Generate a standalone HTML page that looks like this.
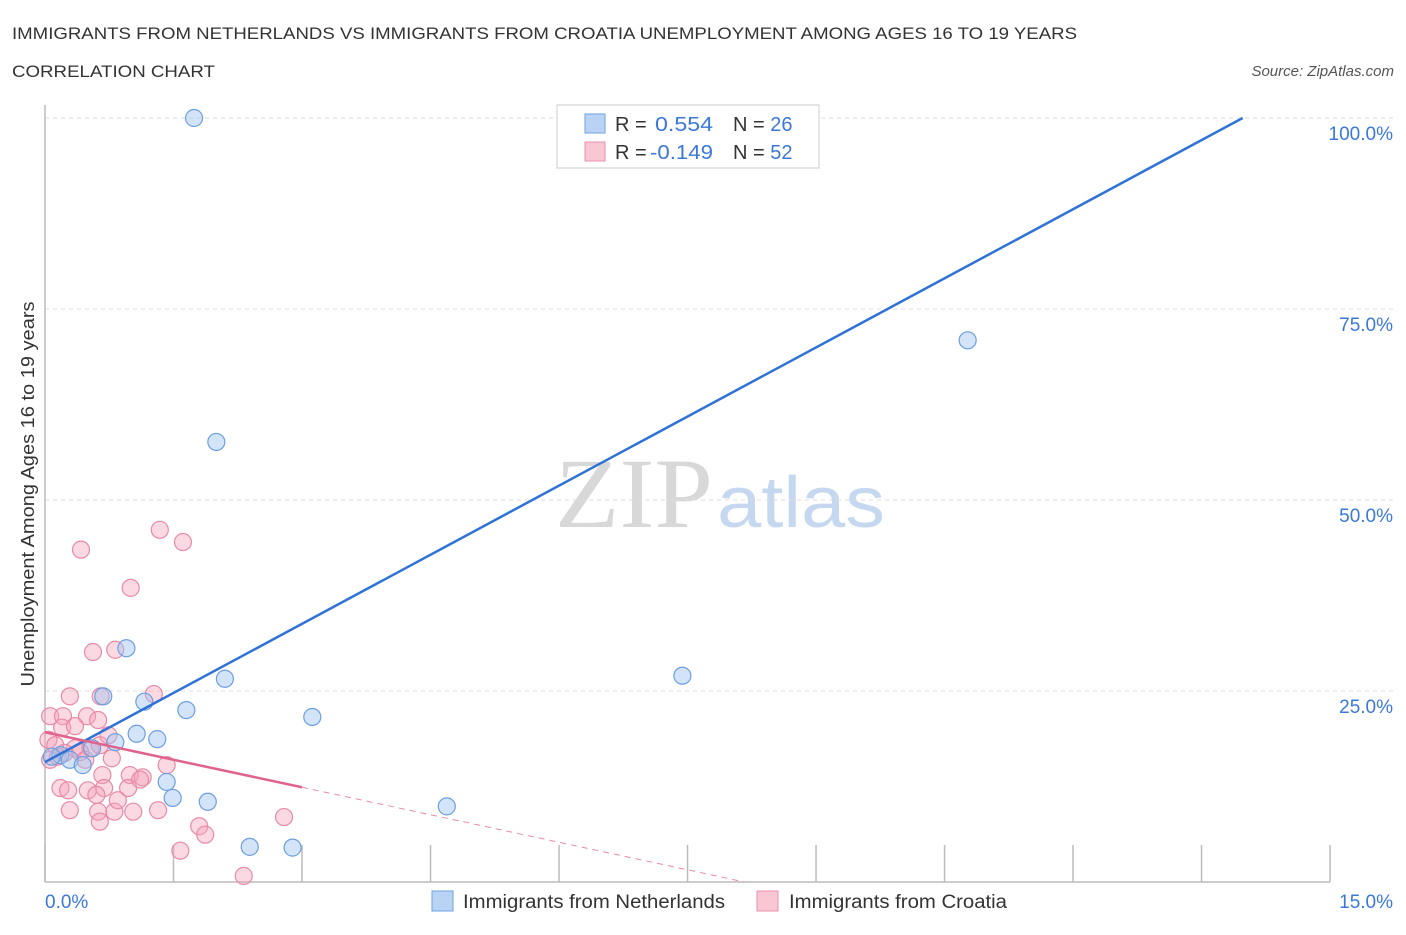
<!DOCTYPE html>
<html><head><meta charset="utf-8"><style>
body{margin:0;background:#fff;font-family:"Liberation Sans",sans-serif;}
</style></head><body>
<svg id="chart" width="1406" height="930" style="font-family:'Liberation Sans',sans-serif">
<text x="12" y="39" font-size="17" fill="#333" textLength="1065" lengthAdjust="spacingAndGlyphs">IMMIGRANTS FROM NETHERLANDS VS IMMIGRANTS FROM CROATIA UNEMPLOYMENT AMONG AGES 16 TO 19 YEARS</text>
<text x="12" y="77" font-size="17" fill="#333" textLength="203" lengthAdjust="spacingAndGlyphs">CORRELATION CHART</text>
<text x="1394" y="76" font-size="15" font-style="italic" fill="#555" text-anchor="end">Source: ZipAtlas.com</text>
<g>
<text x="555" y="527" font-size="100" style="font-family:'Liberation Serif',serif" fill="#d8d8d8" textLength="158" lengthAdjust="spacingAndGlyphs">ZIP</text>
<text x="717" y="527" font-size="72" fill="#c5d8ef" textLength="168" lengthAdjust="spacingAndGlyphs">atlas</text>
</g>
<g id="grid"></g>
<g id="marks"></g>
<text transform="translate(34,494) rotate(-90)" font-size="18" fill="#333" text-anchor="middle" textLength="385" lengthAdjust="spacingAndGlyphs">Unemployment Among Ages 16 to 19 years</text>
<text x="45" y="908" font-size="19" fill="#3b78d8">0.0%</text>
<text x="1393" y="908" font-size="19" fill="#3b78d8" text-anchor="end">15.0%</text>
<g>
<rect x="557" y="105" width="262" height="63" fill="#fff" stroke="#ccc"/>
<rect x="585" y="114" width="20" height="19" fill="#b9d3f5" stroke="#6fa0e6"/>
<rect x="585" y="142" width="20" height="19" fill="#f9c6d4" stroke="#ec8fab"/>
<text x="615" y="131" font-size="20" fill="#333">R = <tspan x="655" fill="#3b78d8" textLength="58" lengthAdjust="spacingAndGlyphs">0.554</tspan></text>
<text x="733" y="131" font-size="20" fill="#333">N = <tspan fill="#3b78d8">26</tspan></text>
<text x="615" y="159" font-size="20" fill="#333">R = <tspan x="650" fill="#3b78d8" textLength="63" lengthAdjust="spacingAndGlyphs">-0.149</tspan></text>
<text x="733" y="159" font-size="20" fill="#333">N = <tspan fill="#3b78d8">52</tspan></text>
</g>
<g>
<rect x="432" y="891" width="21" height="20" fill="#b9d3f5" stroke="#6fa0e6"/>
<text x="463" y="908" font-size="19" fill="#333" textLength="262" lengthAdjust="spacingAndGlyphs">Immigrants from Netherlands</text>
<rect x="757" y="891" width="21" height="20" fill="#f9c6d4" stroke="#ec8fab"/>
<text x="789" y="908" font-size="19" fill="#333" textLength="218" lengthAdjust="spacingAndGlyphs">Immigrants from Croatia</text>
</g>
</svg>
<script>
const yTicks=[25,50,75,100];
const yTickLabels=["25.0%","50.0%","75.0%","100.0%"];
const xTicks=[0,1.5,3,4.5,6,7.5,9,10.5,12,13.5,15];
const nlX=[1.74,6.47,10.77,2.00,0.95,0.68,2.10,7.44,1.16,1.65,3.12,1.07,1.31,0.82,0.55,0.18,0.29,0.44,1.42,1.49,1.90,4.69,2.39,2.89,0.08];
const nlY=[100,100,70.9,57.6,30.6,24.3,26.6,27.0,23.6,22.5,21.6,19.4,18.7,18.3,17.5,16.6,16.0,15.3,13.1,11.0,10.5,9.9,4.6,4.5,16.4];
const hrX=[1.34,1.61,0.42,1.00,0.56,0.82,0.29,0.65,1.27,0.06,0.21,0.49,0.62,0.20,0.35,0.04,0.12,0.35,0.53,0.06,0.15,0.64,0.78,0.23,0.41,0.67,0.99,1.14,1.42,0.69,0.18,0.27,0.50,0.60,0.97,1.11,0.29,0.62,1.03,0.81,1.32,2.79,1.80,1.87,1.58,0.64,2.32,0.85,0.47,0.74];
const hrY=[46.1,44.5,43.5,38.5,30.1,30.4,24.3,24.3,24.6,21.7,21.7,21.7,21.2,20.2,20.4,18.6,17.9,17.5,17.5,16.0,16.4,17.9,16.2,16.9,17.0,14.0,14.0,13.7,15.3,12.3,12.3,12.0,12.0,11.4,12.3,13.4,9.4,9.2,9.2,9.2,9.4,8.5,7.3,6.2,4.1,7.9,0.8,10.7,16.0,19.2];
const nlFit=[15.7,6.03];
const hrFit=[19.6,-2.4];
const X=v=>45+v*85.67, Y=v=>882-v*7.64;
const NS="http://www.w3.org/2000/svg";
function mk(parent,tag,attrs){const e=document.createElementNS(NS,tag);for(const k in attrs)e.setAttribute(k,attrs[k]);parent.appendChild(e);return e;}
const grid=document.getElementById('grid'),marks=document.getElementById('marks');
yTicks.forEach((t,i)=>{
 const l=mk(grid,'line',{x1:45,x2:1393,y1:Y(t),y2:Y(t),stroke:'#ddd','stroke-dasharray':'4,4'});
 
 
 const tx=mk(grid,'text',{x:1393,y:Y(t)+22,'font-size':19,fill:'#3b78d8','text-anchor':'end'});
 tx.textContent=yTickLabels[i];
 
 
});
const ax=mk(grid,'line',{x1:45,x2:45,y1:105,y2:882,stroke:'#bbb','stroke-width':1.5});


const bx=mk(grid,'line',{x1:45,x2:1330,y1:882,y2:882,stroke:'#bbb','stroke-width':1.5});


xTicks.forEach(t=>{
 const l=mk(grid,'line',{x1:X(t),x2:X(t),y1:845,y2:882,stroke:'#bbb','stroke-width':1.5});
 
 
});
hrX.forEach((x,i)=>{
 const c=mk(marks,'circle',{cx:X(x),cy:Y(hrY[i]),r:8.5,fill:'rgba(244,160,185,0.4)',stroke:'#e88aa6','stroke-width':1.2});
 
 
});
nlX.forEach((x,i)=>{
 const c=mk(marks,'circle',{cx:X(x),cy:Y(nlY[i]),r:8.5,fill:'rgba(160,195,240,0.45)',stroke:'#6c9fe0','stroke-width':1.2});
 
 
});
const nlEnd=(100-nlFit[0])/nlFit[1];
const bl=mk(marks,'line',{x1:X(0),y1:Y(nlFit[0]),x2:X(nlEnd),y2:Y(100),stroke:'#2f72d6','stroke-width':2.5});


const pl=mk(marks,'line',{x1:X(0),y1:Y(hrFit[0]),x2:X(3),y2:Y(hrFit[0]+3*hrFit[1]),stroke:'#e0638e','stroke-width':2.5});


const hrEnd=-hrFit[0]/hrFit[1];
const pd=mk(marks,'line',{x1:X(3),y1:Y(hrFit[0]+3*hrFit[1]),x2:X(hrEnd),y2:Y(0),stroke:'#e88aa6','stroke-width':1,'stroke-dasharray':'6,5'});


</script>
</body></html>
